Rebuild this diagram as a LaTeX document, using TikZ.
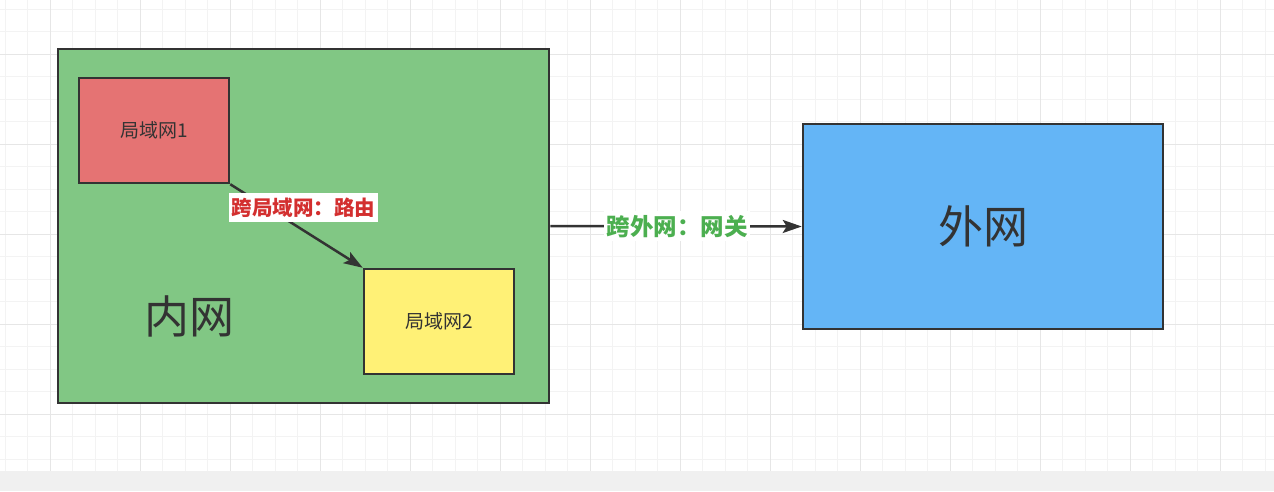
\documentclass[tikz,border=0pt]{standalone}
\usepackage{fontspec}
\setmainfont{Noto Sans CJK SC}
\usetikzlibrary{arrows.meta}
\definecolor{gridminor}{HTML}{F3F3F3}
\definecolor{gridmajor}{HTML}{E6E6E6}
\definecolor{strip}{HTML}{F0F0F0}
\definecolor{ink}{HTML}{333333}
\definecolor{gfill}{HTML}{81C784}
\definecolor{rfill}{HTML}{E57373}
\definecolor{yfill}{HTML}{FFF176}
\definecolor{bfill}{HTML}{64B5F6}
\definecolor{redtxt}{HTML}{D32F2F}
\definecolor{greentxt}{HTML}{4CAF50}
\tikzset{
  box/.style={draw=ink, line width=2.5pt, inner sep=0pt, text=ink},
  edgelabel/.style={fill=white, inner sep=0pt, font=\bfseries},
  conn/.style={draw=ink, line width=2.5pt, -{Stealth[length=19pt,width=13pt,inset=4pt]}},
}
\begin{document}
\begin{tikzpicture}[x=1pt,y=-1pt]
  \useasboundingbox (0,0) rectangle (1274,491);
  \fill[white] (0,0) rectangle (1274,471);
  \fill[strip] (0,471) rectangle (1274,491);
  % grid
  \foreach \x in {5,27.5,...,1274} \draw[gridminor, line width=1pt] (\x,0) -- (\x,471);
  \foreach \y in {9,31.5,...,471} \draw[gridminor, line width=1pt] (0,\y) -- (1274,\y);
  \foreach \x in {50,140,...,1274} \draw[gridmajor, line width=1pt] (\x,0) -- (\x,471);
  \foreach \y in {54,144,...,471} \draw[gridmajor, line width=1pt] (0,\y) -- (1274,\y);
  % boxes
  \node[box, fill=gfill, minimum width=491pt, minimum height=354pt] (inner) at (303.5,226) {};
  \node[box, fill=rfill, minimum width=150pt, minimum height=105pt, font=\fontsize{19}{21}\selectfont] (lan1) at (154,130.5) {局域网1};
  \node[box, fill=yfill, minimum width=150pt, minimum height=105pt, font=\fontsize{19}{21}\selectfont] (lan2) at (439,321.5) {局域网2};
  \node[box, fill=bfill, minimum width=360pt, minimum height=205pt, font=\fontsize{45}{48}\selectfont] (ext) at (983,226.5) {外网};
  \node[text=ink, inner sep=0pt, font=\fontsize{45}{48}\selectfont] (innerlabel) at (189,316) {内网};
  % connectors
  \draw[conn] (lan1.south east) -- (lan2.north west);
  \node[edgelabel, text=redtxt, minimum width=149pt, minimum height=29pt, font=\fontsize{20.5}{22}\selectfont\bfseries] (l1) at (303.5,207.5) {跨局域网：路由};
  \draw[conn] (inner.east) -- (ext.west)
    node[pos=0.504, edgelabel, text=greentxt, minimum width=146pt, minimum height=30pt, font=\fontsize{23.5}{25}\selectfont\bfseries] (l2) {跨外网：网关};
\end{tikzpicture}
\end{document}
